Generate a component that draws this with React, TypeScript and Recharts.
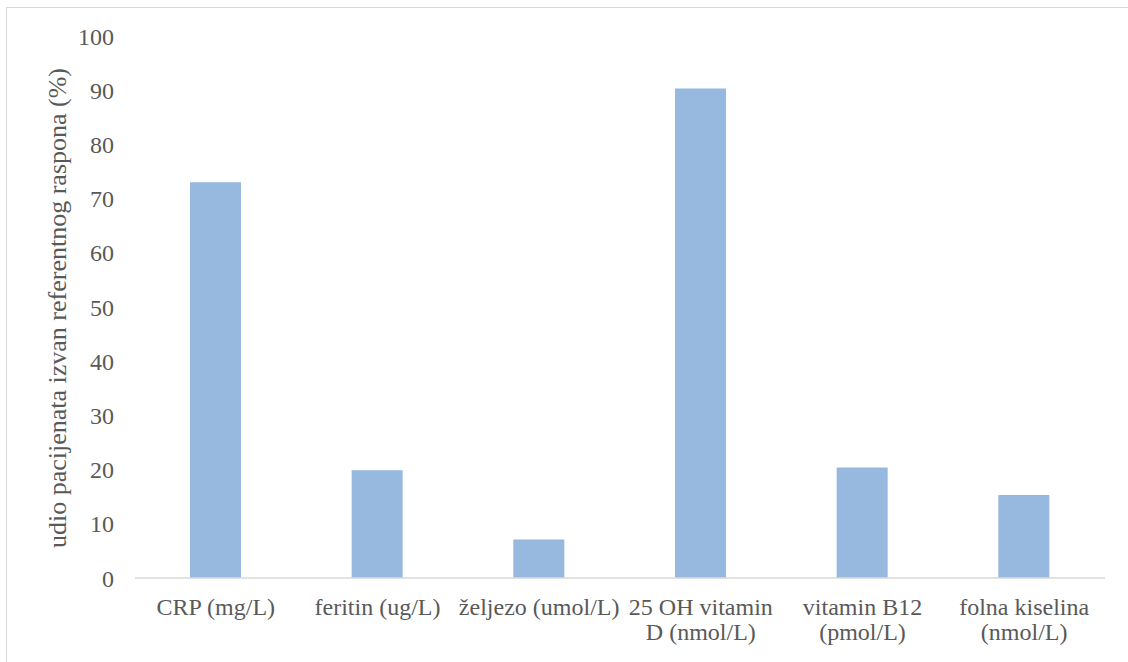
import React from 'react';
import { BarChart, Bar, XAxis, YAxis } from 'recharts';

const categories = [
  'CRP (mg/L)',
  'feritin (ug/L)',
  'željezo (umol/L)',
  '25 OH vitamin|D (nmol/L)',
  'vitamin B12|(pmol/L)',
  'folna kiselina|(nmol/L)',
];
const values = [73.0, 19.9, 7.1, 90.3, 20.4, 15.3];
const yTicks = [0, 10, 20, 30, 40, 50, 60, 70, 80, 90, 100];
const yTitle = 'udio pacijenata izvan referentnog raspona (%)';

const data = categories.map((c, i) => ({ name: c, value: values[i] }));

const FONT = '"Liberation Serif", "Times New Roman", serif';
const TEXT = '#595959';

const XTick = (props: any) => {
  const { x, y, payload } = props;
  const lines = String(payload.value).split('|');
  return (
    <text x={x} y={y} textAnchor="middle" fill={TEXT} fontFamily={FONT} fontSize={24}>
      {lines.map((l, i) => (
        <tspan key={i} x={x} dy={i === 0 ? 29 : 25}>
          {l}
        </tspan>
      ))}
    </text>
  );
};

const YTitle = (props: any) => {
  const vb = props.viewBox || {};
  const cx = vb.x + 57;
  const cy = vb.y + vb.height / 2 + 1;
  return (
    <text
      x={cx}
      y={cy}
      transform={`rotate(-90, ${cx}, ${cy})`}
      textAnchor="middle"
      dominantBaseline="central"
      fill={TEXT}
      fontFamily={FONT}
      fontSize={26}
    >
      {yTitle}
    </text>
  );
};

export default function App() {
  return (
    <div style={{ position: 'absolute', left: 0, top: 0, width: 1128, height: 662, background: '#fff', overflow: 'hidden' }}>
      <div
        style={{
          position: 'absolute',
          left: 6,
          top: 7,
          width: 1140,
          height: 680,
          borderTop: '1.5px solid #D9D9D9',
          borderLeft: '1.5px solid #D9D9D9',
        }}
      />
      <div style={{ position: 'absolute', left: 0, top: 0 }}>
        <BarChart width={1128} height={662} data={data} margin={{ top: 36, right: 23, bottom: 0, left: 0 }}>
          <XAxis
            dataKey="name"
            height={84}
            axisLine={{ stroke: '#D9D9D9', strokeWidth: 1.5 }}
            tickLine={false}
            tick={<XTick />}
            interval={0}
          />
          <YAxis
            width={135}
            domain={[0, 100]}
            ticks={yTicks}
            axisLine={false}
            tickLine={false}
            tickMargin={15}
            tick={{ fill: TEXT, fontSize: 24, fontFamily: FONT }}
            label={<YTitle />}
          />
          <Bar dataKey="value" fill="#97B8DF" barSize={51} isAnimationActive={false} />
        </BarChart>
      </div>
    </div>
  );
}
